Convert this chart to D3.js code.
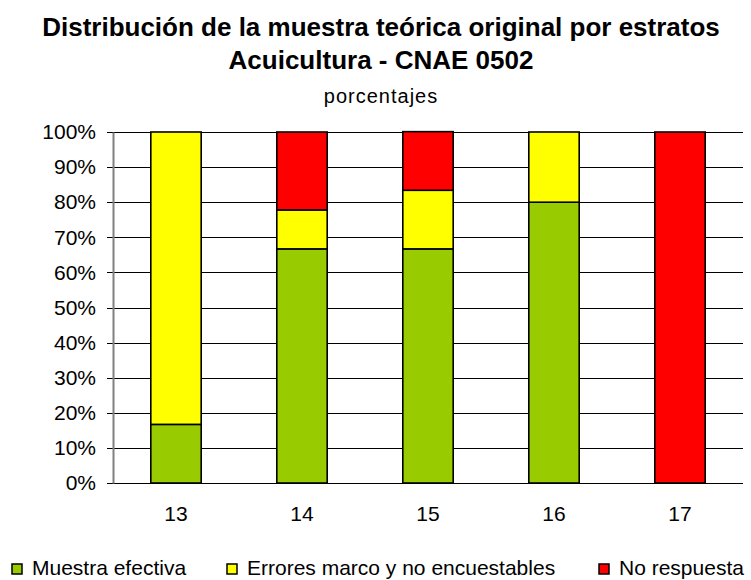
<!DOCTYPE html>
<html>
<head>
<meta charset="utf-8">
<script src="https://cdn.jsdelivr.net/npm/d3@7"></script>
<style>
  body { margin: 0; background: #fff; }
  svg { display: block; font-family: "Liberation Sans", Arial, sans-serif; }
</style>
</head>
<body>
<div id="chart"></div>
<script>
// Data (percent of each stratum)
const estratos = ["13", "14", "15", "16", "17"];
const muestraEfectiva = [16.7, 66.7, 66.7, 80, 0];
const erroresMarco = [83.3, 11.1, 16.7, 20, 0];
const noRespuesta = [0, 22.2, 16.7, 0, 100];
const series = ["Muestra efectiva", "Errores marco y no encuestables", "No respuesta"];
const colores = ["#99CC00", "#FFFF00", "#FF0000"];
const yTicks = [0, 10, 20, 30, 40, 50, 60, 70, 80, 90, 100];

const width = 751, height = 580;
const plot = { left: 113, right: 743, top: 132, bottom: 483 };

const svg = d3.select("#chart").append("svg")
    .attr("width", width)
    .attr("height", height);

// Build rows for the stack
const rows = estratos.map((e, i) => ({
    estrato: e,
    "Muestra efectiva": muestraEfectiva[i],
    "Errores marco y no encuestables": erroresMarco[i],
    "No respuesta": noRespuesta[i]
}));
const stacked = d3.stack().keys(series)(rows);

const x = d3.scaleBand()
    .domain(estratos)
    .range([plot.left, plot.right])
    .paddingInner(0.6)
    .paddingOuter(0.3);

const y = d3.scaleLinear()
    .domain([0, 100])
    .range([plot.bottom, plot.top]);

const color = d3.scaleOrdinal().domain(series).range(colores);

// Titles
svg.append("text")
    .attr("x", 381).attr("y", 36)
    .attr("text-anchor", "middle")
    .style("font-size", "26px").style("font-weight", "bold")
    .text("Distribución de la muestra teórica original por estratos");
svg.append("text")
    .attr("x", 381).attr("y", 69)
    .attr("text-anchor", "middle")
    .style("font-size", "26px").style("font-weight", "bold")
    .text("Acuicultura - CNAE 0502");
svg.append("text")
    .attr("x", 381).attr("y", 103)
    .attr("text-anchor", "middle")
    .style("font-size", "20px").style("letter-spacing", "1px")
    .text("porcentajes");

// Gridlines
svg.append("g")
    .selectAll("line")
    .data(yTicks)
    .join("line")
    .attr("x1", plot.left - 6).attr("x2", plot.right)
    .attr("y1", d => Math.round(y(d)) + 0.5).attr("y2", d => Math.round(y(d)) + 0.5)
    .attr("stroke", "#000").attr("stroke-width", 1);

// Y axis
const yAxis = svg.append("g")
    .attr("transform", `translate(${plot.left},0)`)
    .call(d3.axisLeft(y).tickValues(yTicks).tickFormat(d => d + "%").tickSize(0).tickPadding(17));
yAxis.select(".domain").attr("stroke", "#808080").attr("stroke-width", 2);
yAxis.selectAll("text").style("font-size", "21px").attr("fill", "#000")
    .style("font-family", "'Liberation Sans', Arial, sans-serif");

// Bars
svg.append("g")
    .selectAll("g")
    .data(stacked)
    .join("g")
    .attr("fill", d => color(d.key))
    .selectAll("rect")
    .data(d => d.filter(p => p[1] - p[0] > 0))
    .join("rect")
    .attr("x", d => x(d.data.estrato))
    .attr("y", d => y(d[1]))
    .attr("width", x.bandwidth())
    .attr("height", d => y(d[0]) - y(d[1]))
    .attr("stroke", "#000")
    .attr("stroke-width", 1.6);

// X axis labels
const xAxis = svg.append("g")
    .attr("transform", `translate(0,${plot.bottom})`)
    .call(d3.axisBottom(x).tickSize(0).tickPadding(23));
xAxis.select(".domain").remove();
xAxis.selectAll("text").style("font-size", "21px").attr("fill", "#000")
    .style("font-family", "'Liberation Sans', Arial, sans-serif");

// Legend
const legendX = [12, 227, 599];
const legend = svg.append("g")
    .selectAll("g")
    .data(series)
    .join("g")
    .attr("transform", (d, i) => `translate(${legendX[i]},564)`);
legend.append("rect")
    .attr("width", 10).attr("height", 10)
    .attr("fill", d => color(d))
    .attr("stroke", "#000").attr("stroke-width", 1.5);
legend.append("text")
    .attr("x", 20).attr("y", 11)
    .style("font-size", "21px")
    .text(d => d);
</script>
</body>
</html>
